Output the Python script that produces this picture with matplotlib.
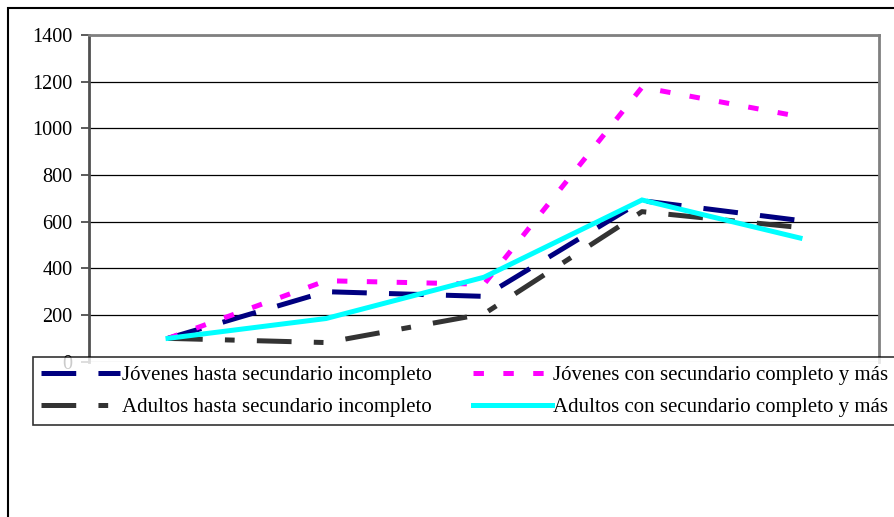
import numpy as np
import matplotlib
matplotlib.use("Agg")
import matplotlib.pyplot as plt
from matplotlib.patches import Rectangle

plt.rcParams['font.family'] = ['Liberation Serif', 'DejaVu Serif']
plt.rcParams['lines.scale_dashes'] = False

# five categories, their labels are hidden under the legend
cats = [1, 2, 3, 4, 5]
jov_hasta = [100, 300, 280, 690, 605]
jov_con = [100, 347, 332, 1176, 1050]
adu_hasta = [100, 82, 205, 643, 575]
adu_con = [100, 185, 362, 693, 530]
labels = ["Jóvenes hasta secundario incompleto",
          "Jóvenes con secundario completo y más",
          "Adultos hasta secundario incompleto",
          "Adultos con secundario completo y más"]
yticks = [0, 200, 400, 600, 800, 1000, 1200, 1400]

fig = plt.figure(figsize=(8.95, 5.17), dpi=100)
ax = fig.add_axes([89/895, 1-361.7/517, (879-89)/895, (361.7-35)/517])

x = np.arange(len(cats))
l1, = ax.plot(x, jov_hasta, color="#000080", lw=3.6, dashes=(25, 16),
              dash_capstyle="butt")
l2, = ax.plot(x, jov_con, color="#FF00FF", lw=3.6, dashes=(7.5, 14),
              dash_capstyle="butt")
l3, = ax.plot(x, adu_hasta, color="#333333", lw=3.6, dashes=(25, 16, 7, 16),
              dash_capstyle="butt")
l4, = ax.plot(x, adu_con, color="#00FFFF", lw=3.6, solid_joinstyle="miter")

ax.set_xlim(-0.5, len(cats) - 0.5)
ax.set_ylim(0, 1400)
ax.set_yticks(yticks)
ax.set_xticks([])
ax.yaxis.grid(True, color="black", lw=0.9)
ax.set_axisbelow(True)
ax.tick_params(axis="y", length=6, width=1.2, color="#404040", pad=6,
               labelsize=14.6)
ax.spines["left"].set_color("#505050")
ax.spines["left"].set_linewidth(2)
for s in ["top", "right"]:
    ax.spines[s].set_color("#808080")
    ax.spines[s].set_linewidth(2)
ax.spines["bottom"].set_visible(False)

# outer frame of the chart, cut on the right and bottom
fig.patches.append(Rectangle((8/895, -0.1), 1.2, 1 - 8/517 + 0.1,
                             transform=fig.transFigure, fill=False,
                             edgecolor="black", lw=1.5))

leg = fig.legend([l1, l3, l2, l4], [labels[0], labels[2], labels[1], labels[3]],
                 ncol=2, loc="upper left", bbox_to_anchor=(33/895, 1-357/517),
                 frameon=True, fancybox=False, edgecolor="black",
                 fontsize=15.0, handlelength=3.8, handletextpad=0.05,
                 columnspacing=2.0, borderaxespad=0, borderpad=0.4,
                 labelspacing=0.6)
leg.get_frame().set_linewidth(1.2)
leg.set_zorder(10)

fig.savefig("out.png", dpi=100)
